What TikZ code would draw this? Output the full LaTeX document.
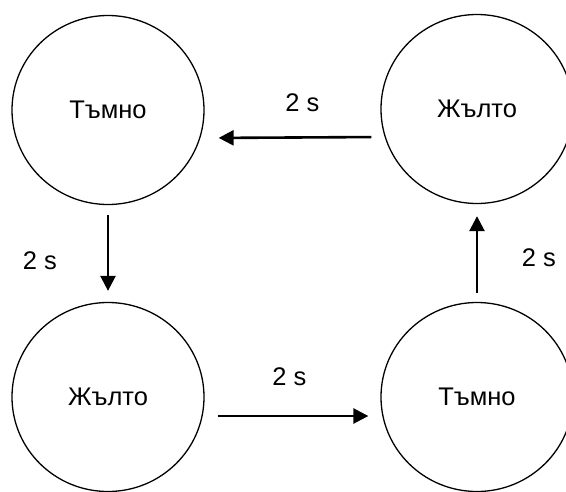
\documentclass[tikz,border=0pt]{standalone}
\usepackage{fontspec}
\setmainfont{Liberation Sans}
\usepackage{tikz}
\usetikzlibrary{arrows.meta}
\usetikzlibrary{shapes.geometric}

\tikzset{
  state/.style={draw, ellipse, line width=1.3pt, minimum width=192pt, minimum height=189pt, inner sep=0pt},
  trans/.style={line width=2.6pt, -{Triangle[length=15pt, width=15pt]}},
}

\begin{document}
\begin{tikzpicture}[x=1pt, y=-1pt, font=\fontsize{25.5}{30}\selectfont]
    % page
    \useasboundingbox (0, 0) rectangle (566, 491);

    % states
    \node[state] (dark1) at (108, 110) {Тъмно};
    \node[state] (yellow1) at (477, 109) {Жълто};
    \node[state] (yellow2) at (108, 397) {Жълто};
    \node[state] (dark2) at (477, 397) {Тъмно};

    % transitions
    \draw[trans, shorten <=9pt, shorten >=14pt] ([yshift=-28pt]yellow1.west) -- node[xshift=10pt, yshift=35pt] {2 s} ([yshift=-28pt]dark1.east);
    \draw[trans, shorten <=10pt, shorten >=11pt] (dark1.south) -- node[xshift=-68pt, yshift=-7pt] {2 s} (yellow2.north);
    \draw[trans, shorten <=13pt, shorten >=12pt] ([yshift=-19pt]yellow2.east) -- node[xshift=-3pt, yshift=39pt] {2 s} ([yshift=-19pt]dark2.west);
    \draw[trans, shorten <=9pt, shorten >=12pt] (dark2.north) -- node[xshift=62pt, yshift=-5pt] {2 s} (yellow1.south);
\end{tikzpicture}
\end{document}
